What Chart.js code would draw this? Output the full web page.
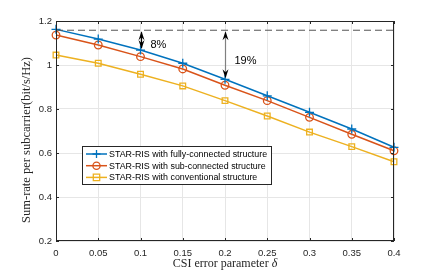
<!DOCTYPE html>
<html>
<head>
<meta charset="utf-8">
<script src="https://cdn.jsdelivr.net/npm/chart.js@4"></script>
<style>
  html, body { margin: 0; padding: 0; background: #fff; }
  #wrap { width: 436px; height: 273px; }
</style>
</head>
<body>
<div id="wrap"><canvas id="chart" width="436" height="273"></canvas></div>
<script>
// CSI error parameter values
const deltas = [0, 0.05, 0.1, 0.15, 0.2, 0.25, 0.3, 0.35, 0.4];
const fullyConnected = [1.162, 1.118, 1.068, 1.008, 0.935, 0.860, 0.785, 0.709, 0.626];
const subConnected   = [1.136, 1.091, 1.038, 0.982, 0.908, 0.838, 0.762, 0.685, 0.610];
const conventional   = [1.045, 1.008, 0.958, 0.905, 0.838, 0.768, 0.695, 0.629, 0.560];
const upperBound = 1.158;
const xTicks = [0, 0.05, 0.1, 0.15, 0.2, 0.25, 0.3, 0.35, 0.4];
const yTicks = [0.2, 0.4, 0.6, 0.8, 1, 1.2];
const seriesLabels = [
  'STAR-RIS with fully-connected structure',
  'STAR-RIS with sub-connected structure',
  'STAR-RIS with conventional structure'
];
// gap annotations: [delta index, label]
const gaps = [[2, '8%'], [4, '19%']];

const BLUE = '#0072BD', RED = '#D95319', YEL = '#EDB120';
const tickFont = { family: 'Liberation Sans, Arial, sans-serif', size: 9.5 };
const serif = 'Liberation Serif, Times New Roman, serif';

const pts = arr => arr.map((v, i) => ({ x: deltas[i], y: v }));

function drawMarker(ctx, style, x, y, color) {
  ctx.save();
  ctx.strokeStyle = color;
  ctx.lineWidth = 1.3;
  ctx.beginPath();
  if (style === 'cross') {
    ctx.moveTo(x - 4, y); ctx.lineTo(x + 4, y);
    ctx.moveTo(x, y - 4); ctx.lineTo(x, y + 4);
  } else if (style === 'circle') {
    ctx.arc(x, y, 3.6, 0, Math.PI * 2);
  } else {
    ctx.rect(x - 3.2, y - 3.2, 6.4, 6.4);
  }
  ctx.stroke();
  ctx.restore();
}

function arrowHead(ctx, x, y, dir) {
  // dir: -1 pointing up, 1 pointing down
  ctx.beginPath();
  ctx.moveTo(x, y);
  ctx.lineTo(x - 3, y - dir * 9);
  ctx.lineTo(x, y - dir * 6);
  ctx.lineTo(x + 3, y - dir * 9);
  ctx.closePath();
  ctx.fill();
}

const extras = {
  id: 'extras',
  afterDatasetsDraw(chart) {
    const { ctx, chartArea: a, scales: { x, y } } = chart;
    ctx.save();
    // frame with inward ticks
    ctx.strokeStyle = '#262626';
    ctx.lineWidth = 1;
    ctx.strokeRect(a.left + 0.5, a.top + 0.5, a.right - a.left - 1, a.bottom - a.top - 1);
    ctx.beginPath();
    xTicks.forEach(v => {
      const xp = Math.round(x.getPixelForValue(v)) + 0.5;
      ctx.moveTo(xp, a.bottom); ctx.lineTo(xp, a.bottom - 3);
      ctx.moveTo(xp, a.top); ctx.lineTo(xp, a.top + 3);
    });
    yTicks.forEach(v => {
      const yp = Math.round(y.getPixelForValue(v)) + 0.5;
      ctx.moveTo(a.left, yp); ctx.lineTo(a.left + 3, yp);
      ctx.moveTo(a.right, yp); ctx.lineTo(a.right - 3, yp);
    });
    ctx.stroke();

    // gap arrows
    const yTop = y.getPixelForValue(upperBound);
    gaps.forEach(([idx, txt], k) => {
      const xp = Math.round(x.getPixelForValue(deltas[idx])) + 0.5;
      const yb = y.getPixelForValue(fullyConnected[idx]);
      ctx.strokeStyle = k === 0 ? '#000' : '#808080';
      ctx.lineWidth = 1.2;
      ctx.beginPath();
      ctx.moveTo(xp, yTop + 2); ctx.lineTo(xp, yb - 2);
      ctx.stroke();
      ctx.fillStyle = '#000';
      arrowHead(ctx, xp, yTop + 1, -1);
      arrowHead(ctx, xp, yb - 1, 1);
      ctx.font = '11px Liberation Sans, Arial, sans-serif';
      ctx.textBaseline = 'middle';
      ctx.textAlign = 'left';
      ctx.fillText(txt, xp + 9, k === 0 ? 45 : 61);
    });

    // legend
    const lx = 82, ly = 146, lw = 189, lh = 38;
    ctx.fillStyle = '#fff';
    ctx.fillRect(lx, ly, lw, lh);
    ctx.strokeStyle = '#262626';
    ctx.lineWidth = 1;
    ctx.strokeRect(lx + 0.5, ly + 0.5, lw, lh);
    const styles = ['cross', 'circle', 'rect'];
    const cols = [BLUE, RED, YEL];
    ctx.font = '8.9px Liberation Sans, Arial, sans-serif';
    ctx.textBaseline = 'middle';
    ctx.textAlign = 'left';
    seriesLabels.forEach((lab, i) => {
      const yy = ly + 8 + i * 11.7;
      ctx.strokeStyle = cols[i];
      ctx.lineWidth = 1.5;
      ctx.beginPath();
      ctx.moveTo(lx + 4, yy); ctx.lineTo(lx + 25, yy);
      ctx.stroke();
      drawMarker(ctx, styles[i], lx + 14.5, yy, cols[i]);
      ctx.fillStyle = '#000';
      ctx.fillText(lab, lx + 27, yy + 0.5);
    });

    // axis titles
    ctx.fillStyle = '#262626';
    ctx.textBaseline = 'middle';
    const xc = (a.left + a.right) / 2;
    const txt1 = 'CSI error parameter ';
    ctx.font = '12px ' + serif;
    const w1 = ctx.measureText(txt1).width;
    ctx.font = 'italic 12px ' + serif;
    const w2 = ctx.measureText('δ').width;
    const sx = xc - (w1 + w2) / 2;
    ctx.textAlign = 'left';
    ctx.font = '12px ' + serif;
    ctx.fillText(txt1, sx, 264);
    ctx.font = 'italic 12px ' + serif;
    ctx.fillText('δ', sx + w1, 264);

    ctx.save();
    ctx.translate(27, 140);
    ctx.rotate(-Math.PI / 2);
    ctx.textAlign = 'center';
    ctx.font = '12.5px ' + serif;
    ctx.fillText('Sum-rate per subcarrier(bit/s/Hz)', 0, 0);
    ctx.restore();
    ctx.restore();
  }
};

new Chart(document.getElementById('chart'), {
  type: 'line',
  data: {
    datasets: [
      {
        label: 'bound',
        data: [{ x: 0, y: upperBound }, { x: 0.4, y: upperBound }],
        borderColor: '#555',
        borderWidth: 1,
        borderDash: [7, 4],
        pointRadius: 0,
        clip: false
      },
      {
        label: seriesLabels[0],
        data: pts(fullyConnected),
        borderColor: BLUE,
        borderWidth: 1.5,
        pointStyle: 'cross',
        pointRadius: 4.5,
        pointBorderWidth: 1.3,
        pointBorderColor: BLUE,
        clip: false
      },
      {
        label: seriesLabels[1],
        data: pts(subConnected),
        borderColor: RED,
        borderWidth: 1.5,
        pointStyle: 'circle',
        pointRadius: 3.8,
        pointBorderWidth: 1.3,
        pointBackgroundColor: 'rgba(0,0,0,0)',
        pointBorderColor: RED,
        clip: false
      },
      {
        label: seriesLabels[2],
        data: pts(conventional),
        borderColor: YEL,
        borderWidth: 1.5,
        pointStyle: 'rect',
        pointRadius: 4,
        pointBorderWidth: 1.3,
        pointBackgroundColor: 'rgba(0,0,0,0)',
        pointBorderColor: YEL,
        clip: false
      }
    ]
  },
  options: {
    responsive: false,
    animation: false,
    layout: { padding: { left: 0, right: 42, top: 21, bottom: 0 } },
    plugins: { legend: { display: false }, tooltip: { enabled: false } },
    scales: {
      x: {
        type: 'linear',
        min: 0, max: 0.4,
        afterBuildTicks: s => { s.ticks = xTicks.map(v => ({ value: v })); },
        afterFit: s => { s.height = 32; },
        ticks: { font: tickFont, color: '#262626', padding: 7, maxRotation: 0,
                 callback: v => String(+v.toFixed(2)) },
        grid: { color: '#e6e6e6', drawTicks: false },
        border: { display: false }
      },
      y: {
        min: 0.2, max: 1.2,
        afterBuildTicks: s => { s.ticks = yTicks.map(v => ({ value: v })); },
        afterFit: s => { s.width = 56; },
        ticks: { font: tickFont, color: '#262626', padding: 4,
                 callback: v => String(+v.toFixed(1)) },
        grid: { color: '#e6e6e6', drawTicks: false },
        border: { display: false }
      }
    }
  },
  plugins: [extras]
});
</script>
</body>
</html>
